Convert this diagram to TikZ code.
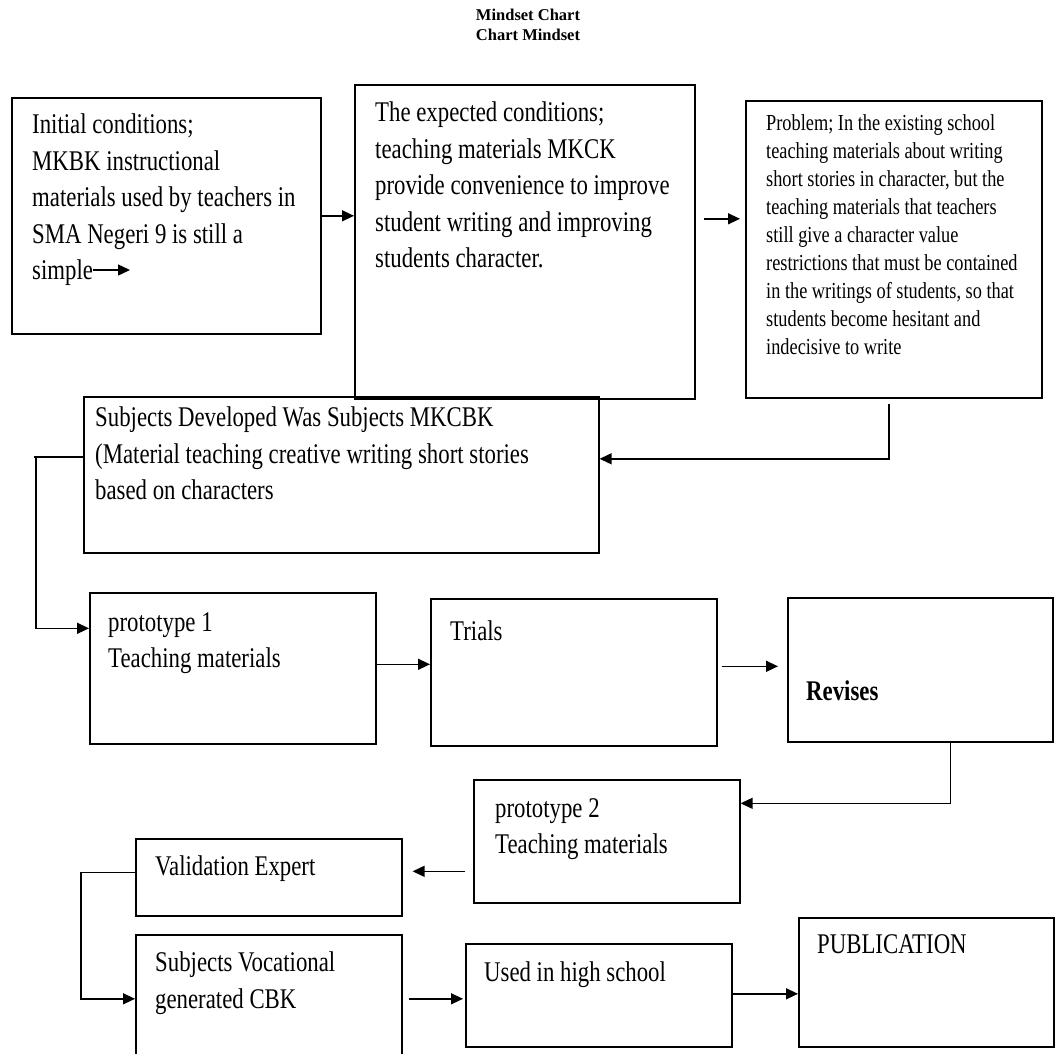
\documentclass[tikz,border=0pt]{standalone}
\usepackage{fontspec}
\usepackage{tikz}
\usetikzlibrary{arrows.meta}
\setmainfont{Liberation Serif}
\newfontfamily\boxfont[FakeStretch=0.8]{Liberation Serif}

\tikzset{
    box/.style={draw, line width=1.6pt, rectangle, anchor=north west, inner sep=0pt},
    txt/.style={anchor=north west, align=left, inner sep=0pt, font=\boxfont\fontsize{28.5}{36.5}\selectfont},
    txtsmall/.style={anchor=north west, align=left, inner sep=0pt, font=\boxfont\fontsize{22.9}{28.1}\selectfont},
    arr/.style={line width=1.4pt, -{Triangle[length=12pt,width=11pt]}},
    lin/.style={line width=1.4pt}
}

\begin{document}
\begin{tikzpicture}[x=1pt, y=1pt]

    \useasboundingbox (0,0) rectangle (1056,-1053);

    % Title
    \node[font=\bfseries\fontsize{16.5}{20}\selectfont, align=center] (title) at (528,-25) {Mindset Chart\\ Chart Mindset};

    % Top row
    \node[box, minimum width=309pt, minimum height=236pt] (init) at (11,-97) {};
    \node[txt] (initT) at (32,-114) {Initial conditions;\\ MKBK instructional\\ materials used by teachers in\\ SMA Negeri 9 is still a\\ simple};
    \draw[arr] (93,-270) -- (130,-270);

    \node[box, minimum width=340pt, minimum height=314pt] (expect) at (354,-84) {};
    \node[txt] (expectT) at (375,-102) {The expected conditions;\\ teaching materials MKCK\\ provide convenience to improve\\ student writing and improving\\ students character.};

    \node[box, minimum width=296pt, minimum height=297pt] (problem) at (745,-100) {};
    \node[txtsmall] (problemT) at (766,-114) {Problem; In the existing school\\ teaching materials about writing\\ short stories in character, but the\\ teaching materials that teachers\\ still give a character value\\ restrictions that must be contained\\ in the writings of students, so that\\ students become hesitant and\\ indecisive to write};

    \draw[arr] (init.east) -- (init.east -| expect.west);
    \draw[arr, shorten <=8pt, shorten >=5pt] ([yshift=23pt]expect.east) -- ([yshift=23pt]expect.east -| problem.west);

    % Subjects developed
    \node[box, minimum width=515pt, minimum height=156pt] (subj) at (83,-396) {};
    \node[txt] (subjT) at (95,-407) {Subjects Developed Was Subjects MKCBK\\ (Material teaching creative writing short stories\\ based on characters};

    \draw[arr, shorten <=5pt] ([xshift=-5pt]problem.south) |- ([yshift=16pt]subj.east);

    % Middle row
    \node[box, minimum width=286pt, minimum height=151pt] (proto1) at (89,-592) {};
    \node[txt] (proto1T) at (108,-612) {prototype 1\\ Teaching materials};

    \node[box, minimum width=286pt, minimum height=147pt] (trials) at (430,-598) {};
    \node[txt] (trialsT) at (450,-621) {Trials};

    \node[box, minimum width=265pt, minimum height=144pt] (revise) at (787,-597) {};
    \node[txt] (reviseT) at (806,-681) {\bfseries Revises};

    \draw[lin] ([yshift=18pt]subj.west) -- ++(-49,0) coordinate (bend1);
    \draw[arr] ([xshift=2pt]bend1) |- ([yshift=40pt]proto1.west);
    \draw[arr] ([yshift=4pt]proto1.east) -- ([yshift=4pt]proto1.east -| trials.west);
    \draw[arr, shorten <=4pt, shorten >=9pt] ([yshift=6pt]trials.east) -- ([yshift=6pt]trials.east -| revise.west);

    % Prototype 2 and validation
    \node[box, minimum width=266pt, minimum height=123pt] (proto2) at (473,-779) {};
    \node[txt] (proto2T) at (495,-798) {prototype 2\\ Teaching materials};

    \node[box, minimum width=266pt, minimum height=77pt] (valid) at (135,-838) {};
    \node[txt] (validT) at (155,-856) {Validation Expert};

    \draw[arr] ([xshift=30pt]revise.south) |- ([yshift=38pt]proto2.east);
    \draw[arr, shorten <=8pt, shorten >=10pt] ([yshift=-30pt]proto2.west) -- ([yshift=-30pt]proto2.west -| valid.east);

    % Bottom row
    \node[box, minimum width=266pt, minimum height=136pt] (vocat) at (135,-934) {};
    \node[txt] (vocatT) at (155,-952) {Subjects Vocational\\ generated CBK};

    \node[box, minimum width=266pt, minimum height=103pt] (used) at (465,-943) {};
    \node[txt] (usedT) at (484,-962) {Used in high school};

    \node[box, minimum width=255pt, minimum height=129pt] (public) at (798,-917) {};
    \node[txt] (publicT) at (817,-934) {PUBLICATION};

    \draw[lin] ([yshift=5pt]valid.west) -- ++(-54,0) coordinate (bend2);
    \draw[arr] (bend2) |- ([yshift=4pt]vocat.west);
    \draw[arr, shorten <=6pt, shorten >=2pt] ([yshift=4pt]vocat.east) -- ([yshift=4pt]vocat.east -| used.west);
    \draw[arr] ([yshift=1.5pt]used.east) -- ([yshift=1.5pt]used.east -| public.west);

\end{tikzpicture}
\end{document}
